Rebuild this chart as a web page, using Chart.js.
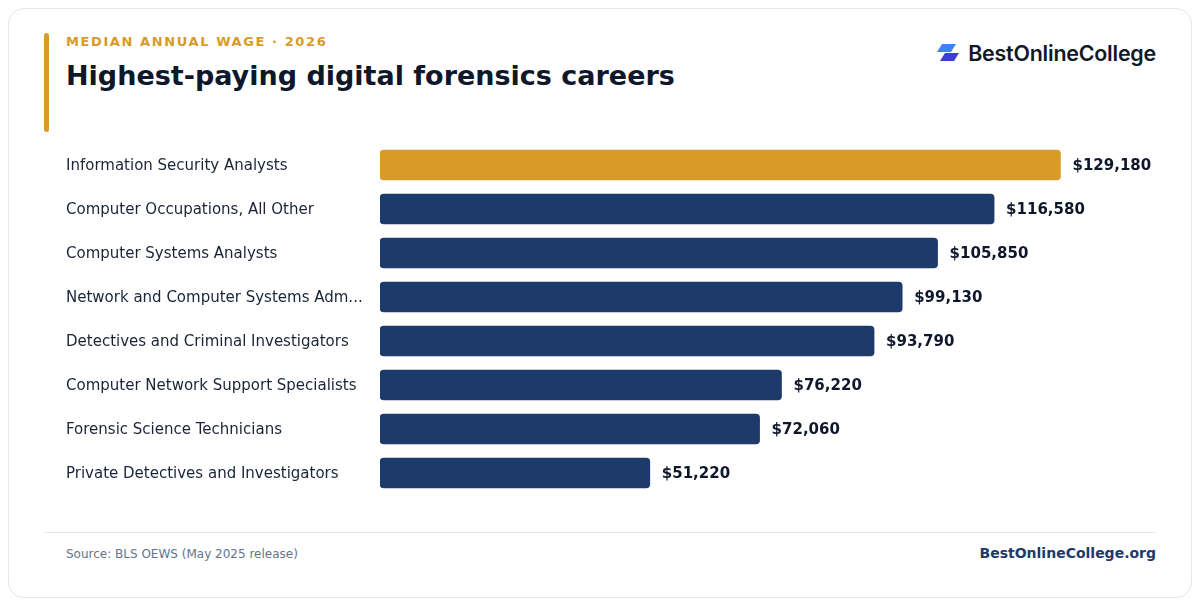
<!DOCTYPE html>
<html>
<head>
<meta charset="utf-8">
<script src="https://cdn.jsdelivr.net/npm/chart.js@4.4.1/dist/chart.umd.min.js"></script>
<style>
  html, body { margin: 0; padding: 0; background: #ffffff; }
  body { width: 1200px; height: 606px; position: relative; overflow: hidden; font-family: "DejaVu Sans", sans-serif; }
  .card { position: absolute; left: 8px; top: 8px; width: 1182px; height: 588px; border: 1px solid #e2e6ee; border-radius: 16px; background: #fff; }
  .accent { position: absolute; left: 44px; top: 33px; width: 5px; height: 99px; background: #d99a27; border-radius: 3px; }
  .kicker { position: absolute; left: 66px; top: 34px; font-size: 13px; font-weight: bold; color: #d99a27; letter-spacing: 1.6px; }
  .title { position: absolute; left: 66px; top: 60px; font-size: 27px; font-weight: bold; color: #0f172a; }
  .logo { position: absolute; right: 44px; top: 40px; display: flex; align-items: center; }
  .logo span { font-family: Inter, sans-serif; font-weight: 600; font-size: 21.4px; color: #111827; letter-spacing: -0.2px; margin-left: 8px; }
  .rule { position: absolute; left: 44px; top: 532px; width: 1112px; height: 1px; background: #e2e6ee; }
  .source { position: absolute; left: 66px; top: 547px; font-size: 12px; color: #64748b; }
  .site { position: absolute; right: 44px; top: 545px; font-size: 14px; font-weight: bold; color: #1e3a6b; }
  #wrap { position: absolute; left: 66px; top: 130px; width: 1100px; height: 380px; }
</style>
</head>
<body>
<div class="card"></div>
<div class="accent"></div>
<div class="kicker">MEDIAN ANNUAL WAGE · 2026</div>
<div class="title">Highest-paying digital forensics careers</div>
<div class="logo">
  <svg width="24" height="18" viewBox="0 0 24 18">
    <polygon points="6,0 20,0 15,8 1,8" fill="#3b82f6"/>
    <polygon points="9,9 23,9 18,17 4,17" fill="#3b3fd8"/>
  </svg>
  <span>BestOnlineCollege</span>
</div>
<div id="wrap"><canvas id="chart"></canvas></div>
<div class="rule"></div>
<div class="source">Source: BLS OEWS (May 2025 release)</div>
<div class="site">BestOnlineCollege.org</div>

<script>
const careers = [
  "Information Security Analysts",
  "Computer Occupations, All Other",
  "Computer Systems Analysts",
  "Network and Computer Systems Administrators",
  "Detectives and Criminal Investigators",
  "Computer Network Support Specialists",
  "Forensic Science Technicians",
  "Private Detectives and Investigators"
];
const wages = [129180, 116580, 105850, 99130, 93790, 76220, 72060, 51220];
const barColors = ["#d99a27", "#1e3a6b", "#1e3a6b", "#1e3a6b", "#1e3a6b", "#1e3a6b", "#1e3a6b", "#1e3a6b"];

// draws "$129,180" after each bar
const valueLabels = {
  id: "valueLabels",
  afterDatasetsDraw(chart) {
    const c = chart.ctx;
    const meta = chart.getDatasetMeta(0);
    c.save();
    c.font = "bold 15px 'DejaVu Sans'";
    c.fillStyle = "#0f172a";
    c.textBaseline = "middle";
    c.textAlign = "left";
    meta.data.forEach((bar, i) => {
      c.fillText("$" + wages[i].toLocaleString("en-US"), bar.x + 12, bar.y + 1);
    });
    c.restore();
  }
};

new Chart(document.getElementById("chart").getContext("2d"), {
  type: "bar",
  data: {
    labels: careers,
    datasets: [{
      data: wages,
      backgroundColor: barColors,
      borderRadius: 4,
      borderSkipped: false,
      barThickness: 30
    }]
  },
  options: {
    indexAxis: "y",
    responsive: true,
    maintainAspectRatio: false,
    animation: false,
    layout: { padding: { top: 13, bottom: 15, right: 38 } },
    plugins: { legend: { display: false }, tooltip: { enabled: false } },
    scales: {
      x: { display: false, min: 0, max: 142000 },
      y: {
        grid: { display: false },
        border: { display: false },
        afterFit(scale) { scale.width = 314; },
        ticks: {
          crossAlign: "far",
          padding: 0,
          labelOffset: 1,
          color: "#1a2436",
          font: { family: "DejaVu Sans", size: 15 },
          callback(v) {
            const s = careers[v];
            return s.length > 38 ? s.slice(0, 32) + "..." : s;
          }
        }
      }
    }
  },
  plugins: [valueLabels]
});
</script>
</body>
</html>
